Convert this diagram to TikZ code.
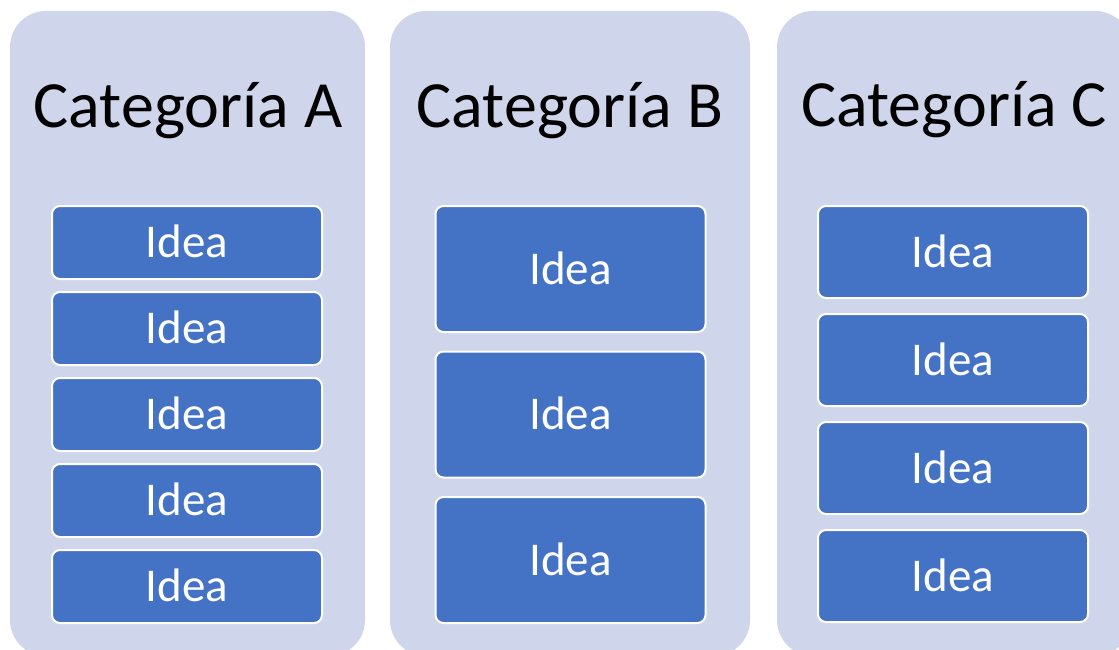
\documentclass[tikz,border=0pt]{standalone}
\usepackage{fontspec}
\setmainfont{Carlito}
\definecolor{colfill}{HTML}{CFD5EA}
\definecolor{boxfill}{HTML}{4472C4}
\begin{document}
\begin{tikzpicture}[x=1pt,y=-1pt,
  column/.style={fill=colfill, draw=none, rounded corners=36pt},
  idea/.style={draw=white, line width=2pt, fill=boxfill, rounded corners=8pt,
     text=white, font=\fontsize{47}{56}\selectfont, inner sep=0pt},
  title/.style={anchor=base, text=black, font=\fontsize{66}{79}\selectfont, inner sep=0pt}]
\useasboundingbox (0,0) rectangle (1119,650);
\clip (0,0) rectangle (1119,650);
% columns
\path[column] (10,11) rectangle (365,656);
\path[column] (390,11) rectangle (750,656);
\path[column] (777,11) rectangle (1131,656);
% titles
\node[title] (ta) at (188,128) {Categoría A};
\node[title] (tb) at (570,128) {Categoría B};
\node[title] (tc) at (954,127) {Categoría C};
% column A
\foreach \i/\y in {1/205,2/291,3/377,4/463,5/549}{
  \node[idea, minimum width=270pt, minimum height=73pt, anchor=north,
        text depth=2pt] (a\i) at (187,\y) {Idea};
}
% column B
\foreach \i/\y in {1/205,2/350.5,3/496}{
  \node[idea, minimum width=270pt, minimum height=126pt, anchor=north,
        text depth=2pt] (b\i) at (570.5,\y) {Idea};
}
% column C
\foreach \i/\y in {1/205,2/313,3/421,4/529}{
  \node[idea, minimum width=270pt, minimum height=92pt, anchor=north,
        text depth=2pt] (c\i) at (953,\y) {Idea};
}
\end{tikzpicture}
\end{document}
